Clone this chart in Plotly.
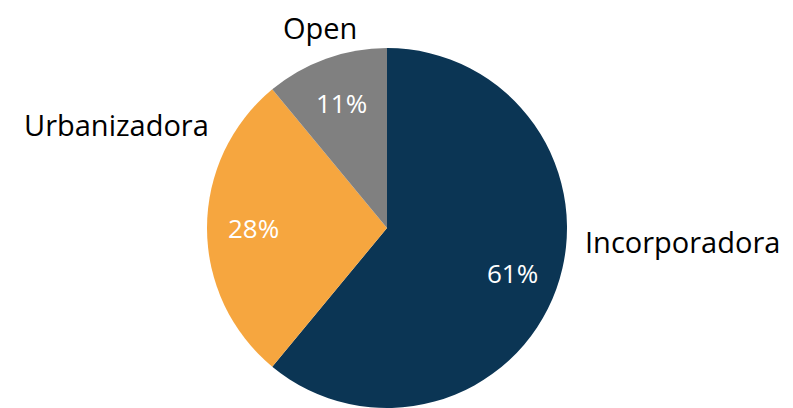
import math
import plotly.graph_objects as go

# --- DADOS ---
segmentos = ["Incorporadora", "Urbanizadora", "Open"]
participacao = [61, 28, 11]
cores = ["#0B3554", "#F6A63F", "#808080"]

fonte = "Open Sans"
W, H = 793, 408
OFF = 8  # margem padrão do <body> da página
cx, cy, raio = 387 - OFF, 228 - OFF, 180  # centro e raio da pizza em px

fig = go.Figure()

fig.add_trace(go.Pie(
    labels=segmentos,
    values=participacao,
    sort=False,
    direction="clockwise",
    rotation=0,
    marker=dict(colors=cores, line=dict(width=0)),
    textinfo="none",
    domain=dict(x=[0, 2 * cx / W], y=[1 - (cy + raio) / H, 1 - (cy - raio) / H]),
    showlegend=False,
    hoverinfo="label+percent",
))

# percentuais dentro das fatias
total = sum(participacao)
acum = 0
for v in participacao:
    meio = math.radians((acum + v / 2) / total * 360)
    acum += v
    dx = 0.74 * raio * math.sin(meio)
    dy = 0.74 * raio * math.cos(meio)
    fig.add_annotation(
        x=(cx + dx) / W, y=(H - cy + dy) / H, xref="paper", yref="paper",
        text=f"{v}%", showarrow=False, xanchor="center", yanchor="middle",
        font=dict(family=fonte, size=26, color="white"),
    )

# rótulos externos
pos_rotulos = [(682, 242), (117, 125), (320, 27)]
for nome, (px_, py_) in zip(segmentos, pos_rotulos):
    fig.add_annotation(
        x=(px_ - OFF) / W, y=1 - (py_ - OFF) / H, xref="paper", yref="paper",
        text=nome, showarrow=False, xanchor="center", yanchor="middle",
        font=dict(family=fonte, size=29, color="black"),
    )

fig.update_layout(
    width=W,
    height=H,
    margin=dict(l=0, r=0, t=0, b=0),
    paper_bgcolor="white",
    plot_bgcolor="white",
)

fig.write_html("out.html")
